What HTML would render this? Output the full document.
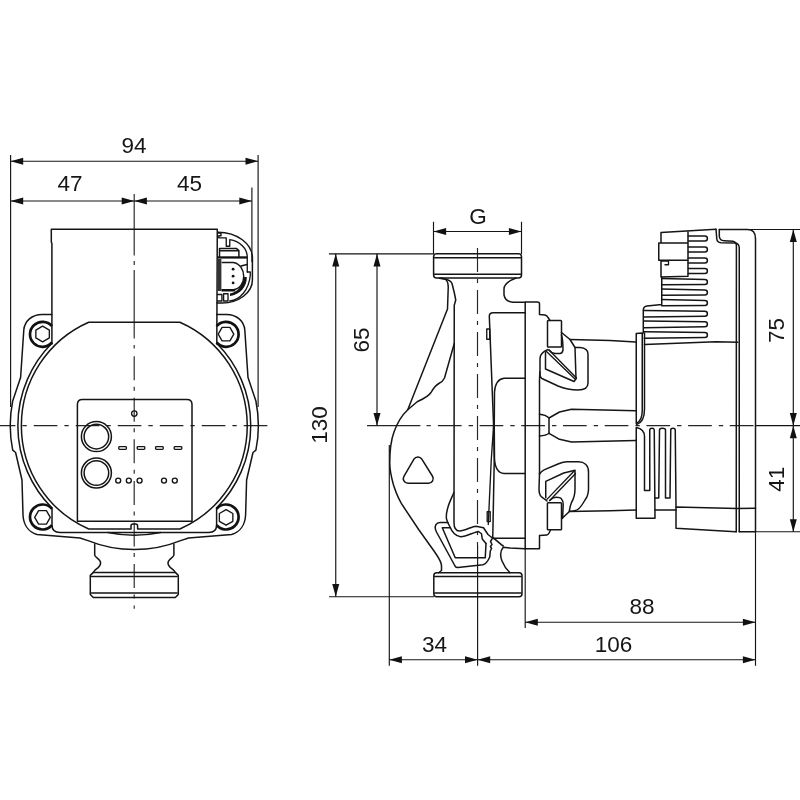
<!DOCTYPE html>
<html><head><meta charset="utf-8"><title>Pump dimension drawing</title>
<style>
html,body{margin:0;padding:0;background:#fff;}
svg{display:block;}
.o{fill:none;stroke:#151515;stroke-width:1.5;stroke-linejoin:round;stroke-linecap:round;}
.o2{fill:none;stroke:#151515;stroke-width:1.35;stroke-linejoin:round;stroke-linecap:round;}
.ring{fill:none;stroke:#111;stroke-width:2.7;}
.t{stroke:#141414;stroke-width:1.15;fill:none;}
.c{stroke:#262626;stroke-width:1.15;fill:none;}
.a{fill:#111;stroke:none;}
text{font-family:"Liberation Sans",sans-serif;font-size:22.5px;fill:#151515;}
</style></head><body>
<svg width="800" height="800" viewBox="0 0 800 800">
<rect width="800" height="800" fill="#fff"/>
<g id="center">
<path class="c" d="M134.2,194.00 L134.2,255.60 M134.2,261.00 L134.2,265.00 M134.2,270.00 L134.2,338.50 M134.2,345.00 L134.2,348.50 M134.2,356.25 L134.2,380.25 M134.2,386.75 L134.2,390.75 M134.2,397.80 L134.2,421.80 M134.2,428.30 L134.2,432.30 M134.2,439.35 L134.2,463.35 M134.2,469.85 L134.2,473.85 M134.2,480.90 L134.2,504.90 M134.2,511.40 L134.2,515.40 M134.2,522.45 L134.2,546.45 M134.2,552.95 L134.2,556.95 M134.2,564.00 L134.2,588.00 M134.2,594.50 L134.2,598.50 M134.2,605.55 L134.2,608.80"/>
<line class="c" x1="0" y1="425.65" x2="267.4" y2="425.65" stroke-dasharray="23.65 7 4.35 7" stroke-dashoffset="8.25"/>
<line class="c" x1="367" y1="425.65" x2="420.4" y2="425.65"/>
<line class="c" x1="426.5" y1="425.65" x2="430.9" y2="425.65"/>
<line class="c" x1="437.9" y1="425.65" x2="755.5" y2="425.65" stroke-dasharray="23.7 7 4.4 6.6"/>
<line class="c" x1="477.5" y1="248" x2="477.5" y2="545" stroke-dasharray="24 7 4 7"/>
</g>
<g id="left">
<path class="o" d="M51.9,344 L51.9,243.5 L51.3,242 L51.3,229.2 L217.3,229.2 L216.8,344"/>
<path class="o" d="M51.9,314.4 L42,314.4 C32,314.4 24.5,321 23.8,330 L20.6,377.5 L12.7,401 A124,124 0 0 0 12.7,450.2 L15.6,452.5 L22,480 L23,515 C23.5,524 28,532 37,534.5 L80,538 L88,540.6 A124,124 0 0 0 180.6,540.6 L188.6,538 L231.6,534.5 C240.6,532 245.1,524 245.6,515 L246.6,480 L253,452.5 L255.9,450.2 A124,124 0 0 0 255.9,401 L248,377.5 L244.8,330 C244.1,321 236.6,314.4 226.6,314.4 L216.7,314.4"/>
<path class="o" d="M51.9,343.3 A116.5,116.5 0 0 0 52,508 L52,525 Q52,532.5 60,532.5 L208.6,532.5 Q216.6,532.5 216.6,525 L216.6,508 A116.5,116.5 0 0 0 216.7,343.3"/>
<path class="o" d="M88.72,322.25 A113,113 0 0 0 88.72,529 L131,529 L131,526 Q131,524 133,524 L135.6,524 Q137.6,524 137.6,526 L137.6,529 L179.88,529 A113,113 0 0 0 179.88,322.25 Z"/>
<path class="o2" d="M108,532.5 Q134.3,538 160.6,532.5"/>
<path class="o" d="M77.4,521.2 L77.4,404.4 Q77.4,399.4 82.4,399.4 L187,399.4 Q192,399.4 192,404.4 L192,521.2 Z"/>
<circle class="o" cx="96.4" cy="436.6" r="15"/><circle class="o" cx="96.4" cy="436.6" r="12.3"/>
<circle class="o" cx="96.4" cy="473" r="15"/><circle class="o" cx="96.4" cy="473" r="12.3"/>
<circle class="o2" cx="134.3" cy="413.6" r="2.7"/>
<rect class="o2" x="118.8" y="446.6" width="7.6" height="2.8" rx="0.8"/>
<rect class="o2" x="137.2" y="446.6" width="7.6" height="2.8" rx="0.8"/>
<rect class="o2" x="155.6" y="446.6" width="7.6" height="2.8" rx="0.8"/>
<rect class="o2" x="174.2" y="446.6" width="7.6" height="2.8" rx="0.8"/>
<circle class="o2" cx="118.2" cy="480.6" r="2.5"/>
<circle class="o2" cx="128.8" cy="480.6" r="2.5"/>
<circle class="o2" cx="139.6" cy="480.6" r="2.5"/>
<circle class="o2" cx="164" cy="480.6" r="2.5"/>
<circle class="o2" cx="174.8" cy="480.6" r="2.5"/>
<path class="ring" d="M52,326.18 A12.5,12.5 0 1 0 52,342.42"/>
<path class="ring" d="M216.6,326.18 A12.5,12.5 0 1 1 216.6,342.42"/>
<path class="ring" d="M52,508.88 A12.5,12.5 0 1 0 52,525.12"/>
<path class="ring" d="M216.6,508.88 A12.5,12.5 0 1 1 216.6,525.12"/>
<polygon class="o2" points="42.60,341.80 35.85,337.90 35.85,330.10 42.60,326.20 49.35,330.10 49.35,337.90"/>
<polygon class="o2" points="233.80,334.10 229.90,340.85 222.10,340.85 218.20,334.10 222.10,327.35 229.90,327.35"/>
<polygon class="o2" points="50.30,517.40 46.40,524.15 38.60,524.15 34.70,517.40 38.60,510.65 46.40,510.65"/>
<polygon class="o2" points="226.10,525.20 219.35,521.30 219.35,513.50 226.10,509.60 232.85,513.50 232.85,521.30"/>
<path class="o" d="M94.7,544 L94.7,555 C94.7,557.5 100.6,558.5 100.6,563 C100.6,568 94.5,569 93.3,572.4"/>
<path class="o" d="M173.9,544 L173.9,555 C173.9,557.5 168,558.5 168,563 C168,568 174.1,569 175.3,572.4"/>
<path class="o" d="M93.3,572.4 L90.3,575.4 L90.3,594.5 L93.3,597.5 L175.3,597.5 L178.3,594.5 L178.3,575.4 L175.3,572.4 Z"/>
<path class="o" d="M91.5,576.4 L177.1,576.4 M91.5,592.9 L177.1,592.9"/>
<path class="o" d="M217.9,232.2 A34.5,25.8 0 0 1 252.4,258 L252.4,280 A30.5,23 0 0 1 222,303 L217,303"/>
<path class="o2" d="M217.9,233.1 L221,233.1 L221,235.75 L218.8,235.75 L218.8,237.9 L226.25,237.9 L226.25,246.25 L229.75,246.25 L229.75,239.7 C240,241 247.25,249 247.25,257 L247.25,272"/>
<path class="o" d="M219.5,256.5 L219.5,248.4 L236.3,248.4 L238.9,250.6 L238.9,256.5 M219.5,250.8 L238.5,250.8"/>
<path d="M217.5,256.3 L247.25,256.3 L247.25,258.6 L217.5,258.6 Z" fill="#111"/>
<path d="M217.5,259 L221.4,259 L221.4,291 L217.5,291 Z" fill="#333"/>
<path class="o" d="M222.3,262.6 L233.25,262.6 C240,263.5 243.75,270 243.75,276.4 C243.75,283 240,289 233.25,289.75 L222.3,289.75"/>
<path d="M221.5,289.2 L234,289.2 L236,291.6 L221.5,291.6 Z" fill="#111"/>
<path d="M246.8,277 C247,287 240,294.5 230,296 L230,293.5 C238,292 243.5,285 244.2,277 Z" fill="#111"/>
<path class="o2" d="M241,266 L247,264.5 M247.25,272 L250.3,272 L250.3,275 C249,290 240,300 229.7,301"/>
<circle cx="233.1" cy="269.2" r="1.4" fill="#111"/>
<circle cx="233.1" cy="276.2" r="1.4" fill="#111"/>
<circle cx="233.1" cy="282.9" r="1.4" fill="#111"/>
<path class="o2" d="M217.5,294.5 L221.9,294.5 L221.9,301 L217.5,301 M223.6,293.7 L228,293.7 L228,301 L223.6,301 Z"/>
</g>
<g id="right">
<rect class="o" x="433.6" y="253.8" width="87.9" height="24.2" rx="3"/>
<path class="o" d="M434.5,257.75 L520.6,257.75 M434.5,274.25 L520.6,274.25"/>
<rect class="o" x="433.8" y="572.75" width="88.2" height="24" rx="3"/>
<path class="o" d="M434.7,576.5 L521.1,576.5 M434.7,593 L521.1,593"/>
<path class="o" d="M439.25,278.2 L445,279 C448,281 448.25,284 448.25,287 L447.5,309 L407.75,409.75"/>
<path class="o" d="M441,278.3 C448,279 451,281 452,283.5 L454.25,292.5 L455.75,300 L454.25,305.25 L454,522.5 C454,528 456,531 459.5,531 C465,531 472,526.2 476,526.2 L483.5,527.75 L488,534.5 L491.75,537.5"/>
<path class="o" d="M454.25,343.5 L444.5,378 C443,381 441,382.5 439.25,383.25 C436,385 433,389 431,392.5 C428,397 422,399.5 417.5,401.5 L407.75,409.75 C400,417 396.5,425 394,432 C391,440 389.75,452 389.75,463 C389.75,470 391,476 393.5,485 C397,496 400,502 404,507.5 L419,530 L434,551 C438,557 441.5,561 441.5,566 L441.5,570.5 L438.5,572.75"/>
<path class="o" d="M516,278 C508,281 504,285 504,289 L504,295 C505,300 509,302 513,302.3 L525,302.3"/>
<path class="o" d="M525.2,548.8 L525.2,302 L537.5,302 Q539.5,302 539.5,304 L539.5,314.5 L545,315 Q547,315.5 548,317.5 L550,320.5"/>
<path class="o" d="M539.8,372 L539.5,380 L539.5,474 M539.5,535.4 L539.5,548.8 L525,548.8 M550.25,530.5 C549,533.5 548,534.9 546.9,534.9 L539.5,535.4"/>
<rect class="o" x="547.5" y="320.5" width="14" height="26.5" rx="0.8"/>
<rect class="o" x="547.4" y="502.8" width="14.1" height="27" rx="0.8"/>
<path class="o" d="M548,349.5 C545,350.5 543,352 541.5,354 C540.3,355.5 540,357 540,359 L540,374 C540,377 541.5,378.5 543,379 L558,386 C566,389.3 572,390 578,390 C584,390 588,387.5 588,383 L588,354 C588,350.5 586,348 580,347.5 L575,347.5"/>
<path class="o" d="M545.5,352 L545.5,369 L574,381.5 L576,379 L575,347.5 L570,339.5 L561.5,332.5"/>
<path class="o2" d="M546.5,351.5 L575,379 M549,350 L576.5,378"/>
<path class="o" d="M561.5,335 C563,340 563,345 563,350 C562.5,352.5 561,353.5 560,353.5 L555,353.5 C552,353 550,351.5 549,350"/>
<path class="o" d="M539.5,474 C541,471.5 543,470.3 544.6,469.6 L558,464 C562,462.5 565,461.75 567,461.75 L578.4,461.75 C584,461.75 588.5,465 588.5,472 L588.5,488.75 C588.5,494 587,497.5 585,500 C583,503.5 581,507 578.4,509 C576.5,510.5 573,511.25 569.4,511.25"/>
<path class="o" d="M539.5,474 L539,488.75 C539,493 540,495.5 541.25,496.6 L547,501"/>
<path class="o" d="M545.75,497.75 L545.75,481.4 L563.75,473 L575,470.2 L575,488.75 C575,496 573,500 571.6,502.25 C570.5,505 569.8,508 569.4,510.7"/>
<path class="o2" d="M546.9,499.4 L574.4,470.75 M549.7,500.5 L575.5,473.5"/>
<path class="o" d="M549.7,500.5 C552,498 554,497.2 555.9,497.2 C559,497.2 561,498 561.5,498.9 C563,500.5 563.2,502.5 563.2,504.5 L562.6,518"/>
<path class="o" d="M562,518.5 L569.4,511.5"/>
<path class="o" d="M570,339.5 L610,340.5 L635.8,341.9 M569.4,511.4 L610,510.7 L635.8,510"/>
<path class="o" d="M539.5,414.25 C543,414.5 547,416 549,418 L549,433.3 C547,435 543,435.8 539.5,436"/>
<path class="o" d="M549,418 L559.5,412 L571.5,409.3 L635.8,410.75 M549,433.3 L559.5,439.3 L571.5,441.9 L635.8,440.4"/>
<path class="o" d="M525,312.7 L493,312.7 Q489.5,312.7 489.3,316 L493.6,425.6 L494.25,460 L492.75,538.2 L525,538.2"/>
<path class="o2" d="M493.6,425.6 L491.25,460 L488.25,524.5"/>
<rect class="o2" x="486.75" y="329" width="3" height="10.2" fill="#bbb"/>
<rect class="o2" x="487.2" y="511.75" width="3" height="9.8" fill="#bbb"/>
<path class="o" d="M525,378.25 L504,378.25 C498,379 495,385 494.5,392 L494.25,425.5 L494.5,459 C495,467 498,473 504,473.5 L525,473.5"/>
<path class="o" d="M525,548.8 L510,548 L503.25,547.25 C500,551 500.5,557 502,561 C504,566 507,570 510,572.75"/>
<path class="o" d="M492,537.5 C496,539 499,543.5 503.25,546"/>
<path class="o" d="M447.75,522.5 L440,522.5 C436,522.5 434.5,526 435.5,529.5 L436.5,532 L455,566 C456,567.5 457,567.7 458,567.5 L483,564.7 C486,564 488,561 489.75,557 L490.3,551 L491.6,548.5 L490.4,546.5 L492,544.5 L490.5,541.5 L492,539"/>
<path class="o" d="M450,527.75 L442.3,527.75 L455.25,557.75 L485.25,557.75 L486,543.5"/>
<path class="o" d="M447.75,522.5 L450,527 C452,532 455,536 460.5,536.75 C466,537 474,532 478.5,531.5 L481.5,533.75 L482.25,539 L486,543.5"/>
<path class="o" d="M454,492.5 C451,499 449,503 448,507 C446.5,512 446,516 446.5,519 L447.75,522.5"/>
<path class="o" d="M413.95,459.20 A4.6,4.6 0 0 1 421.83,459.08 L432.53,476.27 A4.6,4.6 0 0 1 428.62,483.30 L407.91,483.30 A4.6,4.6 0 0 1 403.93,476.38 Z"/>
<path class="o" d="M716,229.3 L661,232.5 L661,243 L658.75,243 L658.75,260.25 L661,260.25 L661,276.9 L688,276.2 L688,231 M661,243 L688,243 M658.75,260.25 L688,260.25"/>
<path class="o2" d="M661.5,261 L668.5,261 L668.5,264.75 L665,264.75"/>
<path class="o" d="M661.75,277 L661.75,304.5 L647,306 Q643.5,306.5 643.3,310 L643.3,333"/>
<path class="o" d="M644.5,333 L644.5,409 C644.5,418 641.5,423 636.6,424.6"/>
<path class="o" d="M688.3,236.00 L704.9,236.00 A2.5,2.5 0 0 1 704.9,241.00 L688.3,241.00"/>
<path class="o" d="M688.3,247.00 L704.9,247.00 A2.5,2.5 0 0 1 704.9,252.00 L688.3,252.00"/>
<path class="o" d="M688.3,258.00 L704.9,258.00 A2.5,2.5 0 0 1 704.9,263.00 L688.3,263.00"/>
<path class="o" d="M688.3,268.50 L704.9,268.50 A2.5,2.5 0 0 1 704.9,273.50 L688.3,273.50"/>
<path class="o" d="M661.6,278.55 L704.9,279.50 A2.5,2.5 0 0 1 704.9,284.50 L661.6,284.85"/>
<path class="o" d="M661.6,289.05 L704.9,290.00 A2.5,2.5 0 0 1 704.9,295.00 L661.6,295.35"/>
<path class="o" d="M661.6,299.45 L704.9,300.40 A2.5,2.5 0 0 1 704.9,305.40 L661.6,305.75"/>
<path class="o" d="M644.3,310.47 L704.9,311.20 A2.5,2.5 0 0 1 704.9,316.20 L644.3,317.05"/>
<path class="o" d="M644.3,321.07 L704.9,321.80 A2.5,2.5 0 0 1 704.9,326.80 L644.3,327.65"/>
<path class="o" d="M644.3,331.77 L704.9,332.50 A2.5,2.5 0 0 1 704.9,337.50 L644.3,338.35"/>
<path class="o" d="M644.5,344.5 L716,341.8 L737.75,342.3"/>
<path class="o" d="M719.3,229.5 L747.5,229.5 Q755.5,229.5 755.5,238.5 L755.5,531.75"/>
<path class="o" d="M716,229.3 L716.75,238.5 Q717,242.5 721,242.7 L735,243 Q739.25,243.5 739.25,248 L739.25,531.75"/>
<path class="o" d="M719.3,229.5 L719.3,236 Q719.5,240.5 724,240.75 L733,241.3 Q736.4,242 736.4,246 L736.25,531.75"/>
<path class="o" d="M676,528.25 L676,507 L737,508.5 L755.5,508.2 M676,528.25 L735.5,531.75 L736.25,531.75 M739.25,531.75 L755.5,531.75"/>
<path class="o" d="M636.25,427.5 L636.25,518.25 L655,518.25 L654.25,430 Q654,428.25 652,428.25 Q649.75,428.25 649.75,430 L649.75,490.5 L644.5,490.5 L644.5,436.5 C644.5,431 641,428.5 636.25,427.5"/>
<path class="o" d="M655,498 L658.75,498 L659.5,430 Q659.5,428.25 662.5,428.25 Q665.5,428.25 665.5,430 L665.5,498 L670,498 L670.75,430 Q670.75,428.25 673,428.25 Q675.25,428.25 675.25,430 L676,507 M655,510 L676,510"/>
<path class="o" d="M636.25,423.5 L636.25,333.6 L642.25,333 L642.25,410 C642.25,418 640,422 636.25,423.5"/>
</g>
<g id="dims">
<line class="t" x1="10.6" y1="155" x2="10.6" y2="407"/>
<line class="t" x1="258.1" y1="155" x2="258.1" y2="407"/>
<line class="t" x1="251.9" y1="187.5" x2="251.9" y2="262"/>
<line class="t" x1="10.6" y1="161.2" x2="258.1" y2="161.2"/>
<polygon class="a" points="10.60,161.20 23.20,157.70 23.20,164.70"/>
<polygon class="a" points="258.10,161.20 245.50,157.70 245.50,164.70"/>
<line class="t" x1="10.6" y1="201" x2="251.9" y2="201"/>
<polygon class="a" points="10.60,201.00 23.20,197.50 23.20,204.50"/>
<polygon class="a" points="134.30,201.00 121.70,197.50 121.70,204.50"/>
<polygon class="a" points="134.30,201.00 146.90,197.50 146.90,204.50"/>
<polygon class="a" points="251.90,201.00 239.30,197.50 239.30,204.50"/>
<line class="t" x1="329" y1="253.8" x2="433.6" y2="253.8"/>
<line class="t" x1="329" y1="596.7" x2="434" y2="596.7"/>
<line class="t" x1="335.75" y1="253.8" x2="335.75" y2="596.7"/>
<polygon class="a" points="335.75,253.80 332.25,266.40 339.25,266.40"/>
<polygon class="a" points="335.75,596.70 332.25,584.10 339.25,584.10"/>
<line class="t" x1="377" y1="253.8" x2="377" y2="425.65"/>
<polygon class="a" points="377.00,253.80 373.50,266.40 380.50,266.40"/>
<polygon class="a" points="377.00,425.65 373.50,413.05 380.50,413.05"/>
<line class="t" x1="433.5" y1="221.75" x2="433.5" y2="254"/>
<line class="t" x1="521.5" y1="221.75" x2="521.5" y2="254"/>
<line class="t" x1="433.5" y1="231.5" x2="521.5" y2="231.5"/>
<polygon class="a" points="433.50,231.50 446.10,228.00 446.10,235.00"/>
<polygon class="a" points="521.50,231.50 508.90,228.00 508.90,235.00"/>
<line class="t" x1="745" y1="229.5" x2="800" y2="229.5"/>
<line class="t" x1="755.5" y1="425.65" x2="800" y2="425.65"/>
<line class="t" x1="755.5" y1="531.75" x2="800" y2="531.75"/>
<line class="t" x1="793.3" y1="229.5" x2="793.3" y2="531.75"/>
<polygon class="a" points="793.30,229.50 789.80,242.10 796.80,242.10"/>
<polygon class="a" points="793.30,425.65 789.80,413.05 796.80,413.05"/>
<polygon class="a" points="793.30,425.65 789.80,438.25 796.80,438.25"/>
<polygon class="a" points="793.30,531.75 789.80,519.15 796.80,519.15"/>
<line class="t" x1="389.3" y1="445" x2="389.3" y2="665.8"/>
<line class="t" x1="477.6" y1="545" x2="477.6" y2="665.8"/>
<line class="t" x1="525.2" y1="548.8" x2="525.2" y2="628"/>
<line class="t" x1="755.5" y1="531.75" x2="755.5" y2="665.8"/>
<line class="t" x1="389.3" y1="659.75" x2="755.5" y2="659.75"/>
<polygon class="a" points="389.30,659.75 401.90,656.25 401.90,663.25"/>
<polygon class="a" points="477.60,659.75 465.00,656.25 465.00,663.25"/>
<polygon class="a" points="477.60,659.75 490.20,656.25 490.20,663.25"/>
<polygon class="a" points="755.50,659.75 742.90,656.25 742.90,663.25"/>
<line class="t" x1="525.2" y1="622.2" x2="755.5" y2="622.2"/>
<polygon class="a" points="525.20,622.20 537.80,618.70 537.80,625.70"/>
<polygon class="a" points="755.50,622.20 742.90,618.70 742.90,625.70"/>
</g>
<g id="labels" style="opacity:0.995">
<text x="134" y="152.5" text-anchor="middle">94</text>
<text x="70" y="191" text-anchor="middle">47</text>
<text x="189.5" y="191" text-anchor="middle">45</text>
<text x="478" y="224" text-anchor="middle">G</text>
<text x="434.6" y="651.5" text-anchor="middle">34</text>
<text x="642" y="613.5" text-anchor="middle">88</text>
<text x="613.5" y="651.5" text-anchor="middle">106</text>
<text transform="translate(368.6,340) rotate(-90)" text-anchor="middle">65</text>
<text transform="translate(327.4,425) rotate(-90)" text-anchor="middle">130</text>
<text transform="translate(784.3,330.6) rotate(-90)" text-anchor="middle">75</text>
<text transform="translate(784.3,479.2) rotate(-90)" text-anchor="middle">41</text>
</g>
</svg>
</body></html>
